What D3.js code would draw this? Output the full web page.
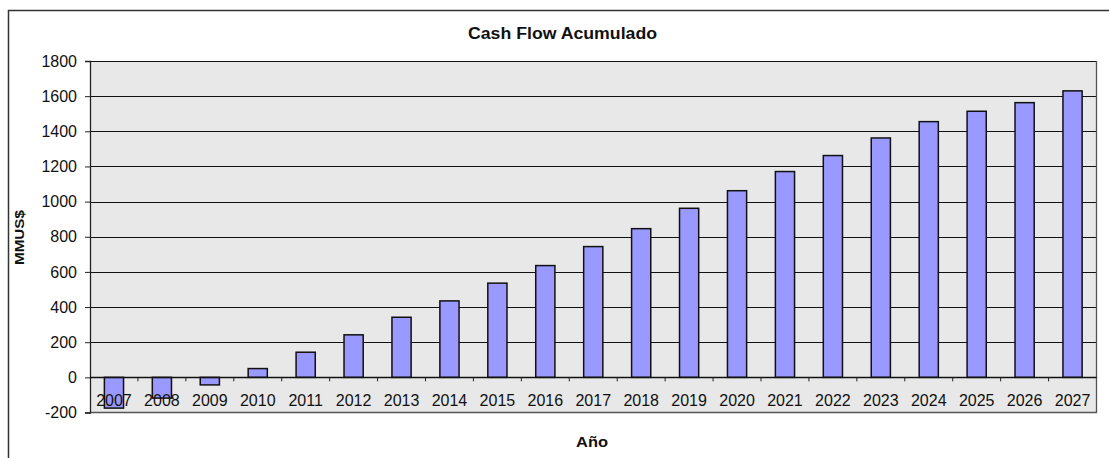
<!DOCTYPE html>
<html>
<head>
<meta charset="utf-8">
<script src="https://cdn.jsdelivr.net/npm/d3@7"></script>
<style>
  html, body { margin: 0; padding: 0; background: #fff; }
  svg { display: block; font-family: "Liberation Sans", Arial, sans-serif; }
</style>
</head>
<body>
<svg id="chart" width="1109" height="458"></svg>
<script>
// Accumulated cash flow per year (MMUS$)
const years = ["2007","2008","2009","2010","2011","2012","2013","2014","2015","2016","2017",
               "2018","2019","2020","2021","2022","2023","2024","2025","2026","2027"];
const cashFlow = [-175, -118, -43, 50, 143, 242, 342, 435, 536, 636, 744,
                  846, 962, 1062, 1171, 1262, 1362, 1455, 1514, 1563, 1630];
const yTicks = [-200, 0, 200, 400, 600, 800, 1000, 1200, 1400, 1600, 1800];

const chartTitle = "Cash Flow Acumulado";
const xTitle = "Año";
const yTitle = "MMUS$";

const svg = d3.select("#chart");
const plot = { left: 90, right: 1096.5, top: 61, bottom: 412.5 };

// outer chart frame (only top and left edges fall inside the page)
svg.append("path")
  .attr("d", "M8.5,458 L8.5,10.5 L1109,10.5")
  .attr("fill", "none").attr("stroke", "#333").attr("stroke-width", 1.5);

const x = d3.scaleBand().domain(years)
  .range([plot.left, plot.right]).paddingInner(0.6).paddingOuter(0.3);
const y = d3.scaleLinear().domain([-200, 1800]).range([plot.bottom, plot.top]);

// plot background
svg.append("rect")
  .attr("x", plot.left).attr("y", plot.top)
  .attr("width", plot.right - plot.left).attr("height", plot.bottom - plot.top)
  .attr("fill", "#e8e8e8");

// horizontal gridlines
svg.append("g").selectAll("line").data(yTicks.filter(d => d !== -200)).join("line")
  .attr("x1", plot.left).attr("x2", plot.right)
  .attr("y1", d => Math.round(y(d)) + 0.5).attr("y2", d => Math.round(y(d)) + 0.5)
  .attr("stroke", "#111").attr("stroke-width", 1);

// plot border on right and bottom
svg.append("path")
  .attr("d", `M${plot.right},${plot.top} L${plot.right},${plot.bottom} L${plot.left},${plot.bottom}`)
  .attr("fill", "none").attr("stroke", "#555").attr("stroke-width", 1.3);

// bars
svg.append("g").selectAll("rect").data(years).join("rect")
  .attr("x", d => x(d))
  .attr("width", x.bandwidth())
  .attr("y", (d, i) => y(Math.max(0, cashFlow[i])))
  .attr("height", (d, i) => Math.abs(y(cashFlow[i]) - y(0)))
  .attr("fill", "#9999ff").attr("stroke", "#111").attr("stroke-width", 1.5);

// y axis
const yAxis = d3.axisLeft(y).tickValues(yTicks).tickSize(5).tickPadding(8).tickFormat(d => String(d));
const gy = svg.append("g").attr("transform", `translate(${plot.left},0)`).call(yAxis);
gy.select(".domain").attr("stroke", "#222").attr("stroke-width", 1.3);
gy.selectAll(".tick line").attr("stroke", "#222");
gy.selectAll(".tick text").attr("font-size", 16).attr("fill", "#111")
  .attr("font-family", "Liberation Sans, Arial, sans-serif");

// x axis along the zero line, ticks between categories
const step = x.step();
const boundaries = d3.range(1, years.length).map(i => plot.left + i * step);
svg.append("line")
  .attr("x1", plot.left).attr("x2", plot.right)
  .attr("y1", Math.round(y(0)) + 0.5).attr("y2", Math.round(y(0)) + 0.5)
  .attr("stroke", "#111").attr("stroke-width", 1.3);
svg.append("g").selectAll("line").data(boundaries).join("line")
  .attr("x1", d => d).attr("x2", d => d)
  .attr("y1", y(0)).attr("y2", y(0) + 4)
  .attr("stroke", "#222");

// category labels
svg.append("g").selectAll("text").data(years).join("text")
  .attr("x", d => x(d) + x.bandwidth() / 2)
  .attr("y", 406)
  .attr("text-anchor", "middle")
  .attr("font-size", 16).attr("fill", "#111")
  .text(d => d);

// titles
svg.append("text")
  .attr("x", 562.5).attr("y", 38.5)
  .attr("text-anchor", "middle")
  .attr("font-size", 16).attr("font-weight", "bold").attr("fill", "#111")
  .attr("textLength", 189).attr("lengthAdjust", "spacingAndGlyphs")
  .text(chartTitle);

svg.append("text")
  .attr("x", 592).attr("y", 446.5)
  .attr("text-anchor", "middle")
  .attr("font-size", 14).attr("font-weight", "bold").attr("fill", "#111")
  .attr("textLength", 32).attr("lengthAdjust", "spacingAndGlyphs")
  .text(xTitle);

svg.append("text")
  .attr("transform", "translate(23.5,237.5) rotate(-90)")
  .attr("text-anchor", "middle")
  .attr("font-size", 13).attr("font-weight", "bold").attr("fill", "#111")
  .attr("textLength", 55).attr("lengthAdjust", "spacingAndGlyphs")
  .text(yTitle);
</script>
</body>
</html>
